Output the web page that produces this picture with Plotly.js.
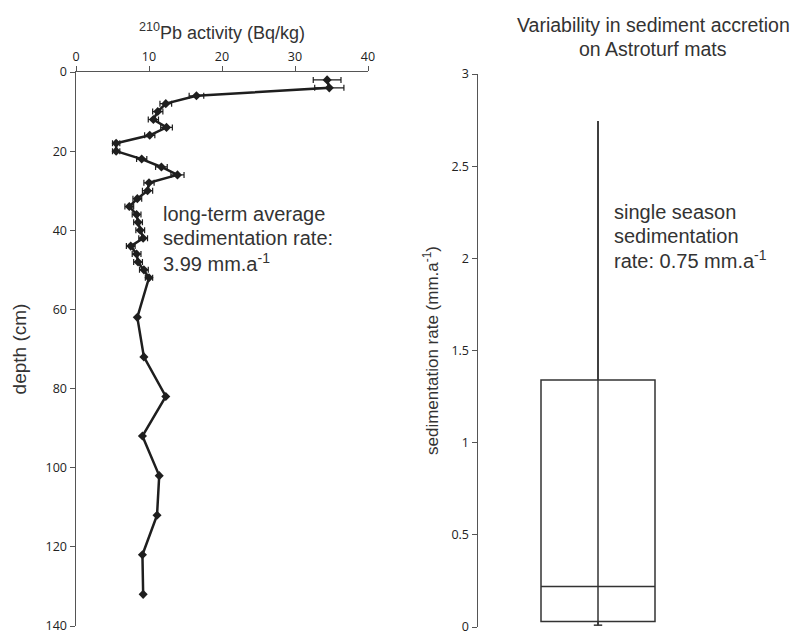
<!DOCTYPE html>
<html>
<head>
<meta charset="utf-8">
<script src="https://cdn.plot.ly/plotly-3.0.1.min.js"></script>
<style>html,body{margin:0;padding:0;background:#fff;}#chart{width:795px;height:635px;}</style>
</head>
<body>
<div id="chart"></div>
<script>
// 210Pb activity profile
const depthCm = [2,4,6,8,10,12,14,16,18,20,22,24,26,28,30,32,34,36,38,40,42,44,46,48,50,52,62,72,82,92,102,112,122,132];
const pbActivity = [34.4,34.7,16.5,12.3,11.2,10.6,12.4,10.1,5.5,5.5,9.0,11.7,13.9,10.0,9.8,8.4,7.3,8.3,8.5,8.8,9.2,7.5,8.3,8.5,9.3,10.0,8.4,9.3,12.3,9.1,11.4,11.1,9.1,9.2];
const pbError = [1.9,2.0,1.0,0.8,0.7,0.7,0.8,0.7,0.5,0.5,0.7,0.8,0.9,0.7,0.7,0.6,0.6,0.6,0.6,0.6,0.6,0.6,0.6,0.6,0.6,0.5,0,0,0,0,0,0,0,0];
const xTicks = [0,10,20,30,40];
const yTicks = [0,20,40,60,80,100,120,140];

// Astroturf mat box summary
const boxLowerFence = [0.01];
const boxQ1 = [0.03];
const boxMedian = [0.22];
const boxQ3 = [1.34];
const boxUpperFence = [2.745];
const rateTicks = [0,0.5,1,1.5,2,2.5,3];
const rateTickText = ['0','0.5','1','1.5','2','2.5','3'];

// annotation texts (one entry per line)
const leftNote = ['long-term average', 'sedimentation rate:', '3.99 mm.a<sup>-1</sup>'];
const rightNote = ['single season', 'sedimentation', 'rate: 0.75 mm.a<sup>-1</sup>'];

const W = 795, H = 635;
const ink = '#1e1e1e';
const axisCol = '#555';
const tickFont = {family: 'Open Sans, sans-serif', size: 12.5, color: '#222'};
const titleFamily = 'Liberation Sans, Arial, sans-serif';
const noteFont = {family: titleFamily, size: 20, color: '#333'};

const traces = [
  {
    x: pbActivity, y: depthCm, type: 'scatter', mode: 'lines+markers',
    xaxis: 'x', yaxis: 'y',
    line: {color: ink, width: 2.5},
    marker: {symbol: 'diamond', size: 7, color: ink},
    error_x: {type: 'data', array: pbError, visible: true, color: ink, thickness: 1.2, width: 3},
    showlegend: false, hoverinfo: 'skip'
  },
  {
    type: 'box', x: [0], xaxis: 'x2', yaxis: 'y2',
    q1: boxQ1, median: boxMedian, q3: boxQ3,
    lowerfence: boxLowerFence, upperfence: boxUpperFence,
    width: 0.95, whiskerwidth: 0,
    line: {color: '#333', width: 1.5},
    fillcolor: 'rgba(0,0,0,0)',
    showlegend: false, hoverinfo: 'skip'
  },
  {
    type: 'scatter', mode: 'lines', xaxis: 'x2', yaxis: 'y2',
    x: [0, 0], y: [boxLowerFence[0], boxUpperFence[0]],
    line: {color: '#333', width: 1.5},
    showlegend: false, hoverinfo: 'skip'
  },
  {
    type: 'scatter', mode: 'markers', xaxis: 'x2', yaxis: 'y2',
    x: [0], y: boxLowerFence,
    marker: {symbol: 'line-ew-open', size: 6, color: '#333', line: {width: 1.5, color: '#333'}},
    showlegend: false, hoverinfo: 'skip'
  }
];

const annotations = [
  {xref: 'paper', yref: 'paper', x: 653/W, y: 1 - 25/H, xanchor: 'center', yanchor: 'middle',
   text: 'Variability in sediment accretion', showarrow: false, font: {family: titleFamily, size: 19.5, color: '#333'}},
  {xref: 'paper', yref: 'paper', x: 653/W, y: 1 - 49/H, xanchor: 'center', yanchor: 'middle',
   text: 'on Astroturf mats', showarrow: false, font: {family: titleFamily, size: 19.5, color: '#333'}}
];
leftNote.forEach((t, i) => annotations.push({
  xref: 'paper', yref: 'paper', x: 161/W, y: 1 - (214 + 24 * i)/H, xanchor: 'left', yanchor: 'middle',
  text: t, showarrow: false, font: noteFont, align: 'left'
}));
rightNote.forEach((t, i) => annotations.push({
  xref: 'paper', yref: 'paper', x: 612/W, y: 1 - (212 + 24 * i)/H, xanchor: 'left', yanchor: 'middle',
  text: t, showarrow: false, font: noteFont, align: 'left'
}));

const layout = {
  width: W, height: H,
  margin: {l: 0, r: 0, t: 0, b: 0},
  paper_bgcolor: '#fff', plot_bgcolor: 'rgba(0,0,0,0)',
  showlegend: false,
  xaxis: {
    domain: [76/W, 368/W], anchor: 'y', side: 'top',
    range: [0, 40], tickvals: xTicks, ticks: 'outside', ticklen: 5, tickcolor: axisCol,
    showline: true, linecolor: axisCol, linewidth: 1.5, showgrid: false, zeroline: false,
    tickfont: tickFont, ticklabeloverflow: 'allow',
    title: {text: '<sup>210</sup>Pb activity (Bq/kg)', font: {family: titleFamily, size: 18, color: '#333'}, standoff: 3}
  },
  yaxis: {
    domain: [1 - 626/H, 1 - 72/H], anchor: 'x',
    range: [140, 0], tickvals: yTicks, ticks: 'outside', ticklen: 5, tickcolor: axisCol,
    showline: true, linecolor: axisCol, linewidth: 1.5, showgrid: false, zeroline: false,
    tickfont: tickFont, ticklabeloverflow: 'allow',
    title: {text: 'depth (cm)', font: {family: titleFamily, size: 19, color: '#333'}, standoff: 14}
  },
  xaxis2: {
    domain: [478/W, 718/W], anchor: 'y2',
    range: [-1, 1], showticklabels: false, ticks: '', showline: false, showgrid: false, zeroline: false
  },
  yaxis2: {
    domain: [1 - 627/H, 1 - 74/H], anchor: 'x2',
    range: [0, 3], tickvals: rateTicks, ticktext: rateTickText, ticks: 'outside', ticklen: 5, tickcolor: axisCol,
    showline: true, linecolor: axisCol, linewidth: 1.5, showgrid: false, zeroline: false,
    tickfont: tickFont, ticklabeloverflow: 'allow',
    title: {text: 'sedimentation rate (mm.a<sup>-1</sup>)', font: {family: titleFamily, size: 17, color: '#333'}, standoff: 8}
  },
  annotations: annotations
};

Plotly.newPlot('chart', traces, layout, {staticPlot: true, displayModeBar: false});
</script>
</body>
</html>
